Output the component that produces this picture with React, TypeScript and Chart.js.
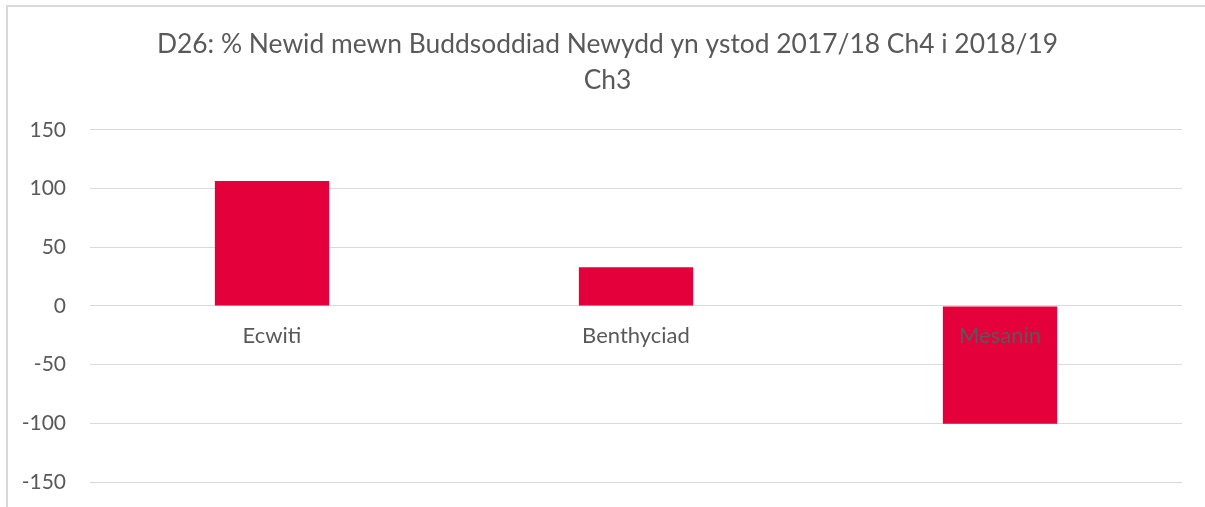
import React, { useEffect, useRef } from "react";
import { Chart, registerables } from "chart.js";

Chart.register(...registerables);

const categories = ["Ecwiti", "Benthyciad", "Mesanin"];
const values = [106.5, 33, -100.3];
const yTicks = [-150, -100, -50, 0, 50, 100, 150];
const titleLines = [
  "D26: % Newid mewn Buddsoddiad Newydd yn ystod 2017/18 Ch4 i 2018/19",
  "Ch3",
];

const TEXT = "#595959";
const GRID = "#D9D9D9";
const BAR = "#E4003B";
const FONT = "Lato, 'Open Sans', sans-serif";

export default function App() {
  const ref = useRef<HTMLCanvasElement | null>(null);

  useEffect(() => {
    document.body.style.margin = "0";
    if (!ref.current) return;
    const chart = new Chart(ref.current, {
      type: "bar",
      data: {
        labels: categories,
        datasets: [
          {
            data: values,
            backgroundColor: BAR,
            borderWidth: 0,
            categoryPercentage: 1,
            barPercentage: 0.314,
          },
        ],
      },
      options: {
        animation: false,
        responsive: false,
        layout: { padding: { left: 10, right: 0, top: 0, bottom: 0 } },
        plugins: {
          legend: { display: false },
          tooltip: { enabled: false },
          title: {
            display: true,
            text: titleLines,
            color: TEXT,
            font: { family: FONT, size: 26.4, weight: "normal", lineHeight: 1.38 },
            padding: { top: 26, bottom: 31 },
          },
        },
        scales: {
          x: {
            type: "category",
            position: { y: 0 } as any,
            offset: true,
            grid: { display: false, drawTicks: false },
            border: { display: false },
            ticks: {
              color: TEXT,
              font: { family: FONT, size: 22 },
              padding: 17,
              z: 1,
              maxRotation: 0,
              autoSkip: false,
            },
          },
          y: {
            min: -150,
            max: 150,
            grid: { color: GRID, lineWidth: 1, drawTicks: false },
            border: { display: false },
            ticks: {
              color: TEXT,
              font: { family: FONT, size: 21 },
              padding: 24,
            },
            afterBuildTicks: (s: any) => {
              s.ticks = yTicks.map((v) => ({ value: v }));
            },
            afterFit: (s: any) => {
              s.width = 80;
              s.paddingTop = 0;
              s.paddingBottom = 25;
            },
          },
          yRight: {
            type: "linear",
            position: "right",
            display: true,
            grid: { display: false, drawTicks: false },
            border: { display: false },
            ticks: { display: false },
            afterFit: (s: any) => {
              s.width = 23;
            },
          },
        },
      },
    });
    return () => chart.destroy();
  }, []);

  return (
    <div style={{ position: "relative", width: 1205, height: 507, overflow: "hidden" }}>
      <canvas ref={ref} width={1205} height={507} style={{ display: "block" }} />
      <div
        style={{
          position: "absolute",
          left: 6,
          top: 5,
          right: -10,
          bottom: -10,
          borderTop: `2px solid ${GRID}`,
          borderLeft: `2px solid ${GRID}`,
          pointerEvents: "none",
        }}
      />
    </div>
  );
}
